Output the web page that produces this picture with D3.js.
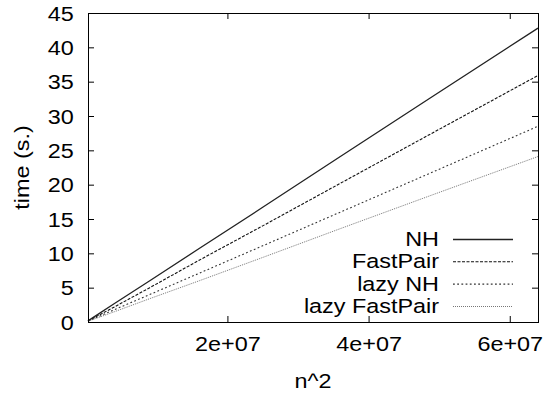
<!DOCTYPE html>
<html>
<head>
<meta charset="utf-8">
<script src="https://cdn.jsdelivr.net/npm/d3@7"></script>
<style>
  body { margin: 0; background: #fff; }
  text { font-family: "Liberation Sans", Arial, sans-serif; }
</style>
</head>
<body>
<div id="chart"></div>
<script>
var w = 549, h = 394;

// n^2 sample points (n = 500 .. 8000)
var n2 = [250000, 1000000, 4000000, 9000000, 16000000, 25000000, 36000000, 49000000, 64000000];

var nh          = [0.17, 0.67, 2.7, 6.0, 10.7, 16.7, 24.1, 32.8, 42.8];
var fastPair    = [0.14, 0.56, 2.2, 5.0, 9.0, 14.0, 20.2, 27.5, 35.9];
var lazyNh      = [0.11, 0.45, 1.8, 4.0, 7.1, 11.1, 16.0, 21.8, 28.5];
var lazyFastPair = [0.09, 0.38, 1.5, 3.4, 6.0, 9.4, 13.6, 18.5, 24.1];

var seriesNames = ['NH', 'FastPair', 'lazy NH', 'lazy FastPair'];

var xTicks = [20000000, 40000000, 60000000];
var xTickLabels = ['2e+07', '4e+07', '6e+07'];
var yTicks = [0, 5, 10, 15, 20, 25, 30, 35, 40, 45];

var styles = [
  { stroke: '#222', width: 1.3, dash: null },
  { stroke: '#111', width: 1.1, dash: '3,1.5' },
  { stroke: '#333', width: 1.1, dash: '1.8,2.4' },
  { stroke: '#777', width: 1, dash: '1,1' }
];

var fontSize = 19.5;
var stretch = 'scale(1.2,1)';

var svg = d3.select('#chart')
  .append('svg')
  .attr('width', w)
  .attr('height', h);

var x = d3.scaleLinear().domain([250000, 64000000]).range([88, 538]);
var y = d3.scaleLinear().domain([0, 45]).range([322, 13]);

// axes, ticks pointing inward, mirrored on top/right
var bottom = svg.append('g')
  .attr('transform', 'translate(0,322)')
  .call(d3.axisBottom(x).tickValues(xTicks).tickSizeInner(-6).tickSizeOuter(0)
    .tickPadding(15.5).tickFormat(function(d, i) { return xTickLabels[i]; }));

var left = svg.append('g')
  .attr('transform', 'translate(88,0)')
  .call(d3.axisLeft(y).tickValues(yTicks).tickSizeInner(-6).tickSizeOuter(0));

svg.append('g')
  .attr('transform', 'translate(0,13)')
  .call(d3.axisTop(x).tickValues(xTicks).tickSizeInner(-6).tickSizeOuter(0).tickFormat(''));

svg.append('g')
  .attr('transform', 'translate(538,0)')
  .call(d3.axisRight(y).tickValues(yTicks).tickSizeInner(-6).tickSizeOuter(0).tickFormat(''));

svg.selectAll('.domain').remove();
svg.selectAll('.tick line').attr('stroke', '#000');
svg.selectAll('g').attr('font-family', null).attr('font-size', null);

bottom.selectAll('text')
  .attr('font-size', fontSize)
  .attr('fill', '#000')
  .attr('transform', stretch);

left.selectAll('text')
  .attr('font-size', fontSize)
  .attr('fill', '#000')
  .attr('x', -11.8)
  .attr('dy', '0.36em')
  .attr('transform', stretch);

// lines
var series = [nh, fastPair, lazyNh, lazyFastPair];

var line = d3.line()
  .x(function(d, i) { return x(n2[i]); })
  .y(function(d) { return y(d); });

series.forEach(function(s, k) {
  svg.append('path')
    .attr('d', line(s))
    .attr('fill', 'none')
    .attr('stroke', styles[k].stroke)
    .attr('stroke-width', styles[k].width)
    .attr('stroke-dasharray', styles[k].dash);
});

// frame
svg.append('rect')
  .attr('x', 88.5)
  .attr('y', 13.5)
  .attr('width', 450)
  .attr('height', 309)
  .attr('fill', 'none')
  .attr('stroke', '#000')
  .attr('stroke-width', 1);

// legend
var legendY = [239, 261.3, 283.6, 306];
seriesNames.forEach(function(name, k) {
  svg.append('text')
    .attr('transform', 'translate(439,' + legendY[k] + ') ' + stretch)
    .attr('text-anchor', 'end')
    .attr('dy', '0.36em')
    .attr('font-size', fontSize)
    .text(name);
  svg.append('line')
    .attr('x1', 453)
    .attr('x2', 513)
    .attr('y1', legendY[k] + 0.5)
    .attr('y2', legendY[k] + 0.5)
    .attr('stroke', styles[k].stroke)
    .attr('stroke-width', styles[k].width)
    .attr('stroke-dasharray', styles[k].dash);
});

// axis titles
svg.append('text')
  .attr('transform', 'translate(313,388) ' + stretch)
  .attr('text-anchor', 'middle')
  .attr('font-size', fontSize)
  .text('n^2');

svg.append('text')
  .attr('transform', 'translate(29,167.5) rotate(-90) ' + stretch)
  .attr('text-anchor', 'middle')
  .attr('font-size', fontSize)
  .text('time (s.)');
</script>
</body>
</html>
